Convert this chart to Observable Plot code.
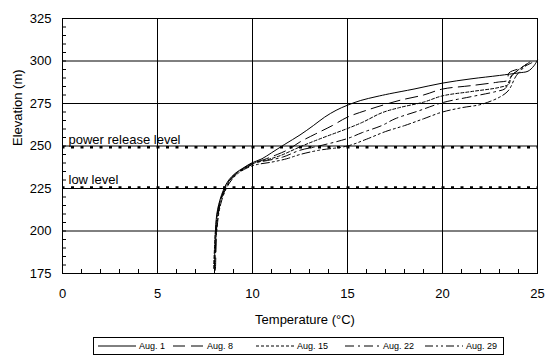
<!DOCTYPE html>
<html>
<head>
<meta charset="utf-8">
<script src="https://cdn.jsdelivr.net/npm/d3@7"></script>
<script src="https://cdn.jsdelivr.net/npm/@observablehq/plot@0.6"></script>
<style>
  html, body { margin: 0; padding: 0; background: #fff; }
  #wrap { position: relative; width: 553px; height: 360px; font-family: "Liberation Sans", Arial, sans-serif; }
  #wrap svg { position: absolute; left: 0; top: 0; }
</style>
</head>
<body>
<div id="wrap"></div>
<script>
// ---- data ----
const seriesNames = ["Aug. 1", "Aug. 8", "Aug. 15", "Aug. 22", "Aug. 29"];

const aug1E = [179,190,200,210,218,225,230,234,237,240,242.5,246,251,256.5,262,267,271,274,276.8,279,280.7,283.5,287,289.5,291.5,293,294,297,300.5];
const aug1T = [8.0,8.02,8.05,8.12,8.28,8.5,8.75,9.1,9.5,9.95,10.5,11.0,11.7,12.5,13.2,13.8,14.4,15.0,15.7,16.5,17.2,18.5,20.0,21.5,23.0,24.0,24.5,24.8,25.0];

const aug8E = [177,190,200,210,218,225,230,234,237,240,242,245,248,252.4,257,262,267,271,274.5,277,280,283.5,285.5,287.7,288.5,293,295.8,299.5];
const aug8T = [8.05,8.08,8.1,8.18,8.32,8.55,8.8,9.15,9.55,10.0,10.6,11.3,11.9,12.5,13.3,14.2,15.0,16.0,17.0,17.8,19.0,20.0,21.5,23.0,23.4,23.5,24.1,24.6];

const aug15E = [178,190,200,210,218,225,230,234,237,240,242,244.5,249.5,254,260.3,264,269.5,272.5,275.8,279.5,282,284.5,286.5,291,294,298];
const aug15T = [7.95,8.0,8.05,8.15,8.3,8.55,8.82,9.15,9.6,10.1,10.8,11.5,12.5,13.5,15.0,15.8,16.8,17.7,19.0,20.0,21.5,23.0,23.5,23.6,23.9,24.4];

const aug22E = [176,190,200,210,218,225,230,234,237,240,241.5,243.5,247.5,250,254.4,258,262,266,270.5,275.5,279,282,283.8,288,292,296,299];
const aug22T = [8.0,8.05,8.1,8.2,8.35,8.6,8.85,9.2,9.65,10.15,10.8,11.6,12.5,13.5,15.0,15.8,16.8,17.5,18.7,20.0,21.5,22.8,23.3,23.5,23.7,24.2,24.7];

const aug29E = [178,190,200,210,218,225,230,234,237,239,240.5,242.5,245,247.5,250,254,258.5,262,266,270,272.5,275,281.8,291.6,298.5];
const aug29T = [8.0,8.05,8.12,8.22,8.38,8.62,8.9,9.25,9.7,10.2,11.0,11.8,12.5,13.5,15.0,16.0,17.0,18.0,19.0,20.0,21.0,22.2,23.4,23.9,24.5];

const levelNames = ["power release level", "low level"];
const levelValues = [249.2, 225.6];

const xTicks = [0, 5, 10, 15, 20, 25];
const yTicks = [175, 200, 225, 250, 275, 300, 325];
const xMinor = d3.range(0, 26, 1);
const yMinor = d3.range(175, 326, 5);

// ---- styles ----
const dashes = ["none", "12,6", "3,2", "9,4,2,4", "8,3,2,3,2,3"];
const FONT = '"Liberation Sans", Arial, sans-serif';

const allE = [aug1E, aug8E, aug15E, aug22E, aug29E];
const allT = [aug1T, aug8T, aug15T, aug22T, aug29T];
const rows = seriesNames.map((name, i) => allE[i].map((e, j) => ({series: name, elev: e, temp: allT[i][j]})));

const chart = Plot.plot({
  width: 553,
  height: 360,
  marginLeft: 62,
  marginRight: 16,
  marginTop: 18,
  marginBottom: 87,
  style: {fontFamily: FONT, fontSize: "13px", background: "white", color: "black"},
  x: {domain: [0, 25]},
  y: {domain: [175, 325]},
  marks: [
    Plot.gridX(xTicks, {stroke: "black", strokeOpacity: 1, strokeWidth: 1}),
    Plot.gridY(yTicks, {stroke: "black", strokeOpacity: 1, strokeWidth: 1}),
    Plot.tickY(yMinor, {y: d => d, stroke: "black", insetRight: 475 - 4}),
    Plot.tickX(xMinor, {x: d => d, stroke: "black", insetTop: 255 - 4}),
    Plot.ruleY(levelValues, {stroke: "black", strokeWidth: 2.5, strokeDasharray: "3,6.5", strokeDashoffset: -9}),
    Plot.text(levelNames.map((n, i) => ({n, v: levelValues[i]})), {
      x: () => 0, y: "v", text: "n", dx: 6, dy: -3, textAnchor: "start", lineAnchor: "bottom",
      fontSize: 13, fill: "black"
    }),
    ...rows.map((r, i) => Plot.line(r, {
      x: "temp", y: "elev", stroke: "black", strokeWidth: 1, curve: "catmull-rom",
      strokeDasharray: dashes[i]
    })),
    Plot.frame({stroke: "black", strokeWidth: 1}),
    Plot.axisX(xTicks, {tickSize: 0, tickPadding: 15, fontSize: 13, label: null}),
    Plot.axisY(yTicks, {tickSize: 0, tickPadding: 11, fontSize: 13, label: null}),
    Plot.text(["Temperature (°C)"], {frameAnchor: "bottom", dy: 46, lineAnchor: "middle", fontSize: 13, dx: 5}),
    Plot.text(["Elevation (m)"], {frameAnchor: "left", dx: -45, rotate: -90, lineAnchor: "middle", fontSize: 13})
  ]
});
document.getElementById("wrap").appendChild(chart);

// ---- legend below the plot area ----
const legendItems = [
  {x1: 98, x2: 136, tx: 139},
  {x1: 173, x2: 205, tx: 207},
  {x1: 256, x2: 294, tx: 297},
  {x1: 345, x2: 380, tx: 383},
  {x1: 425, x2: 463, tx: 466}
];
const lg = d3.select("#wrap").append("svg")
  .attr("width", 553).attr("height", 22)
  .style("top", "337px");
lg.append("rect").attr("x", 93.5).attr("y", 0.5).attr("width", 410).attr("height", 17)
  .attr("fill", "white").attr("stroke", "black");
legendItems.forEach((it, i) => {
  lg.append("line").attr("x1", it.x1).attr("x2", it.x2).attr("y1", 9).attr("y2", 9)
    .attr("stroke", "black").attr("stroke-dasharray", dashes[i]);
  lg.append("text").attr("x", it.tx).attr("y", 9).attr("dy", "0.35em")
    .attr("font-family", FONT).attr("font-size", 9).text(seriesNames[i]);
});
</script>
</body>
</html>
